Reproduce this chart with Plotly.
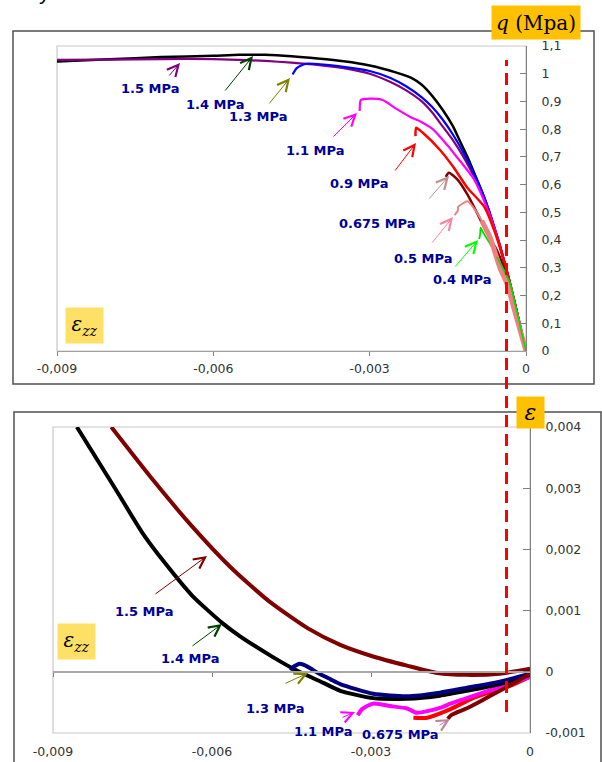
import plotly.graph_objects as go

W, H = 602, 762

# ---------------- top chart data: q (MPa) vs eps_zz ----------------
top_x_ticks = [-0.009, -0.006, -0.003, 0]
top_x_ticktext = ["-0,009", "-0,006", "-0,003", "0"]
top_y_ticks = [0, 0.1, 0.2, 0.3, 0.4, 0.5, 0.6, 0.7, 0.8, 0.9, 1.0, 1.1]
top_y_ticktext = ["0", "0,1", "0,2", "0,3", "0,4", "0,5", "0,6", "0,7", "0,8", "0,9", "1", "1,1"]

ezz_14 = [0, -0.0001, -0.0002, -0.0003, -0.0004, -0.0005, -0.0006, -0.0007, -0.0008, -0.0009, -0.001,
          -0.0011, -0.0012, -0.0013, -0.0014, -0.0016, -0.0018, -0.002, -0.0022, -0.0025, -0.003,
          -0.0035, -0.004, -0.0045, -0.005, -0.0055, -0.006, -0.007, -0.008, -0.009]
q_14 = [0, 0.08, 0.16, 0.24, 0.31, 0.38, 0.44, 0.50, 0.55, 0.60, 0.645, 0.69, 0.73, 0.77, 0.81, 0.87,
        0.92, 0.96, 0.985, 1.005, 1.03, 1.045, 1.055, 1.063, 1.068, 1.068, 1.065, 1.06, 1.052, 1.044]

ezz_15 = [0, -0.0002, -0.0004, -0.0006, -0.0008, -0.001, -0.0012, -0.0014, -0.0016, -0.0018, -0.002,
          -0.0023, -0.0026, -0.003, -0.0035, -0.004, -0.0045, -0.005, -0.0055, -0.006, -0.007, -0.008, -0.009]
q_15 = [0, 0.16, 0.31, 0.44, 0.55, 0.63, 0.70, 0.76, 0.81, 0.86, 0.90, 0.94, 0.97, 1.0, 1.02, 1.032,
        1.04, 1.046, 1.05, 1.053, 1.053, 1.051, 1.05]

ezz_13 = [0, -0.0002, -0.0004, -0.0006, -0.0008, -0.001, -0.0012, -0.0014, -0.0016, -0.0018, -0.002,
          -0.0023, -0.0026, -0.003, -0.0035, -0.004, -0.0042, -0.00427, -0.0044, -0.00448]
q_13 = [0, 0.16, 0.31, 0.44, 0.555, 0.64, 0.715, 0.78, 0.835, 0.88, 0.915, 0.955, 0.985, 1.01, 1.025,
        1.035, 1.036, 1.033, 1.02, 0.997]

ezz_11 = [0, -0.0002, -0.0004, -0.0006, -0.0008, -0.001, -0.0012, -0.00133, -0.0015, -0.00179, -0.002,
          -0.00223, -0.0025, -0.00275, -0.003, -0.00317, -0.00319]
q_11 = [0, 0.16, 0.31, 0.44, 0.54, 0.62, 0.67, 0.70, 0.74, 0.80, 0.825, 0.845, 0.875, 0.905, 0.91,
        0.905, 0.866]

ezz_09 = [0, -0.0002, -0.0004, -0.0006, -0.0008, -0.00113, -0.0014, -0.00165, -0.00198, -0.00211, -0.00212]
q_09 = [0, 0.16, 0.31, 0.43, 0.52, 0.59, 0.665, 0.725, 0.787, 0.805, 0.775]

ezz_brown = [0, -0.0001, -0.0002, -0.0003, -0.0004, -0.00055, -0.00075, -0.00094, -0.00112, -0.00131,
             -0.00148, -0.00154]
q_brown = [0, 0.075, 0.15, 0.22, 0.285, 0.36, 0.426, 0.498, 0.563, 0.617, 0.643, 0.628]

ezz_pink = [0, -0.00012, -0.00024, -0.00037, -0.0005, -0.00069, -0.00085, -0.001, -0.00112, -0.0013,
            -0.00131, -0.00137]
q_pink = [0, 0.08, 0.16, 0.245, 0.30, 0.41, 0.47, 0.515, 0.54, 0.52, 0.505, 0.49]

ezz_green = [0, -0.0001, -0.0002, -0.00031, -0.00045, -0.00056, -0.0007, -0.00083, -0.00087, -0.00088, -0.0009]
q_green = [0, 0.08, 0.16, 0.245, 0.30, 0.34, 0.39, 0.43, 0.445, 0.42, 0.404]

# ---------------- bottom chart data: eps vs eps_zz ----------------
bot_x_ticks = [-0.009, -0.006, -0.003, 0]
bot_x_ticktext = ["-0,009", "-0,006", "-0,003", "0"]
bot_y_ticks = [-0.001, 0, 0.001, 0.002, 0.003, 0.004]
bot_y_ticktext = ["-0,001", "0", "0,001", "0,002", "0,003", "0,004"]

b_ezz_15 = [0, -0.00057, -0.00119, -0.00175, -0.00232, -0.00296, -0.00358, -0.00419, -0.00492,
            -0.00564, -0.00638, -0.0071, -0.0079]
b_e_15 = [0.00005, -0.00003, -0.00005, -0.00002, 0.0001, 0.00025, 0.00044, 0.00071, 0.00115,
          0.0017, 0.00238, 0.00312, 0.004]

b_ezz_14 = [0, -0.00057, -0.00119, -0.0017, -0.00232, -0.00296, -0.00358, -0.0039, -0.0044, -0.00485,
            -0.00547, -0.00581, -0.00638, -0.00689, -0.00732, -0.00783, -0.00855]
b_e_14 = [-0.00005, -0.0002, -0.00031, -0.00039, -0.00044, -0.00043, -0.00031, -0.00018, 0.00002,
          0.00024, 0.00058, 0.0008, 0.00125, 0.00178, 0.00228, 0.003, 0.004]

b_ezz_13 = [0, -0.00057, -0.00119, -0.0017, -0.00232, -0.00296, -0.00358, -0.00377, -0.004, -0.00419,
            -0.00434, -0.00447, -0.00451]
b_e_13 = [-0.00003, -0.00016, -0.00026, -0.00034, -0.0004, -0.00036, -0.0002, -0.00012, -0.00002,
          0.00008, 0.00013, 0.00008, 0.00002]

b_ezz_11 = [0, -0.00025, -0.00057, -0.00089, -0.00119, -0.0015, -0.0017, -0.00213, -0.00232, -0.00264,
            -0.00296, -0.00317, -0.00325]
b_e_11 = [-0.00008, -0.00016, -0.00025, -0.00034, -0.00043, -0.00052, -0.00059, -0.00067, -0.0006,
          -0.00056, -0.00052, -0.00061, -0.00071]

b_ezz_09 = [0, -0.00038, -0.00075, -0.00108, -0.0015, -0.00194, -0.0022]
b_e_09 = [-0.00008, -0.00023, -0.00033, -0.00043, -0.00061, -0.00075, -0.00075]

b_ezz_0675 = [0, -0.00025, -0.00057, -0.00089, -0.0012, -0.00149, -0.00155]
b_e_0675 = [-0.00003, -0.00016, -0.00031, -0.00046, -0.0006, -0.00071, -0.00077]

# labels
top_labels = ["1.5 MPa", "1.4 MPa", "1.3 MPa", "1.1 MPa", "0.9 MPa", "0.675 MPa", "0.5 MPa", "0.4 MPa"]
bot_labels = ["1.5 MPa", "1.4 MPa", "1.3 MPa", "1.1 MPa", "0.675 MPa"]


def fx(px):
    return px / W


def fy(py):
    return 1 - py / H


fig = go.Figure()

top_series = [
    (ezz_14, q_14, "#000000", 2.5),
    (ezz_15, q_15, "#800080", 2.2),
    (ezz_13, q_13, "#0000FF", 2.2),
    (ezz_11, q_11, "#FF00FF", 2.2),
    (ezz_09, q_09, "#FF0000", 2.5),
    (ezz_brown, q_brown, "#800000", 2.5),
    (ezz_pink, q_pink, "#F08080", 2.0),
    (ezz_green, q_green, "#00E000", 1.8),
]
for xs, ys, c, w in top_series:
    fig.add_trace(go.Scatter(x=xs, y=ys, mode="lines", line=dict(color=c, width=w, shape="spline",
                             smoothing=0.6), xaxis="x", yaxis="y", showlegend=False, hoverinfo="skip"))
fig.add_trace(go.Scatter(x=ezz_pink[:7], y=q_pink[:7], mode="lines",
                         line=dict(color="#F08080", width=5, shape="spline", smoothing=0.6),
                         xaxis="x", yaxis="y", showlegend=False, hoverinfo="skip"))
fig.add_trace(go.Scatter(x=ezz_green[:6], y=q_green[:6], mode="lines",
                         line=dict(color="#00E000", width=1.5, shape="spline", smoothing=0.6),
                         xaxis="x", yaxis="y", showlegend=False, hoverinfo="skip"))

bot_series = [
    (b_ezz_09, b_e_09, "#FF0000"),
    (b_ezz_11, b_e_11, "#FF00FF"),
    (b_ezz_14, b_e_14, "#000000"),
    (b_ezz_13, b_e_13, "#000080"),
    (b_ezz_15, b_e_15, "#800000"),
    (b_ezz_0675, b_e_0675, "#800000"),
]
for xs, ys, c in bot_series:
    fig.add_trace(go.Scatter(x=xs, y=ys, mode="lines", line=dict(color=c, width=4, shape="spline",
                             smoothing=0.6), xaxis="x2", yaxis="y2", showlegend=False, hoverinfo="skip"))
fig.add_trace(go.Scatter(x=[None], y=[None], xaxis="x3", yaxis="y2", showlegend=False, hoverinfo="skip"))

tickfont = dict(family="DejaVu Sans", size=12.5, color="#333333")

top_dom_y = [fy(351), fy(46)]
bot_dom_y = [fy(733), fy(427)]
bot_ymin, bot_ymax = -0.001, 0.004
zero_pos = bot_dom_y[0] + (0 - bot_ymin) / (bot_ymax - bot_ymin) * (bot_dom_y[1] - bot_dom_y[0])

fig.update_layout(
    width=W, height=H,
    margin=dict(l=0, r=0, t=0, b=0, autoexpand=False),
    paper_bgcolor="white", plot_bgcolor="white",
    xaxis=dict(domain=[fx(57), fx(526)], range=[-0.009, 0], anchor="y", automargin=False,
               tickvals=top_x_ticks, ticktext=top_x_ticktext, ticks="outside", ticklen=4,
               tickcolor="#808080", showline=True, linecolor="#A0A0A0", linewidth=1,
               showgrid=False, zeroline=False, tickfont=tickfont, ticklabelstandoff=2),
    yaxis=dict(domain=top_dom_y, range=[0, 1.1], anchor="x", side="right", automargin=False,
               tickvals=top_y_ticks, ticktext=top_y_ticktext, ticks="inside", ticklen=6,
               tickcolor="#808080", showline=True, linecolor="#808080", linewidth=1,
               showgrid=False, zeroline=False, tickfont=tickfont, ticklabelstandoff=12),
    xaxis2=dict(domain=[fx(53), fx(530)], range=[-0.009, 0], anchor="y2", automargin=False,
                tickvals=bot_x_ticks, ticktext=bot_x_ticktext, ticks="", showline=False,
                showgrid=False, zeroline=False, tickfont=tickfont, ticklabelstandoff=9),
    xaxis3=dict(domain=[fx(53), fx(530)], range=[-0.009, 0], overlaying="x2", anchor="free",
                position=zero_pos, automargin=False, tickvals=bot_x_ticks, ticks="outside", ticklen=4,
                tickcolor="#808080", showticklabels=False, showline=True, linecolor="#A8A8A8",
                linewidth=1.5, showgrid=False, zeroline=False),
    yaxis2=dict(domain=bot_dom_y, range=[bot_ymin, bot_ymax], anchor="x2", side="right", automargin=False,
                tickvals=bot_y_ticks, ticktext=bot_y_ticktext, ticks="inside", ticklen=7,
                tickcolor="#808080", showline=True, linecolor="#808080", linewidth=1,
                showgrid=False, zeroline=False, tickfont=tickfont, ticklabelstandoff=12),
)

shapes = [
    dict(type="rect", xref="paper", yref="paper", x0=fx(13), x1=fx(594), y0=fy(384), y1=fy(31),
         line=dict(color="#505050", width=1.5), layer="below"),
    dict(type="rect", xref="paper", yref="paper", x0=fx(14), x1=fx(601), y0=fy(775), y1=fy(412),
         line=dict(color="#505050", width=1.5), layer="below"),
    dict(type="rect", xref="x domain", yref="y domain", x0=0, x1=1, y0=0, y1=1,
         line=dict(color="#C8C8C8", width=1.2), layer="below"),
    dict(type="rect", xref="x2 domain", yref="y2 domain", x0=0, x1=1, y0=0, y1=1,
         line=dict(color="#C8C8C8", width=1.2), layer="below"),
    dict(type="line", xref="paper", yref="paper", x0=fx(506.5), x1=fx(506.5), y0=fy(712), y1=fy(60),
         line=dict(color="#FF0000", width=3, dash="12px,7px")),
]
fig.update_layout(shapes=shapes)

label_font = dict(family="DejaVu Sans", size=13, color="#000099")
annotations = []

top_label_pos = [(150, 89), (215, 105), (258, 117), (315, 150), (359, 184), (377, 223), (423, 258), (462, 280)]
for t, (px, py) in zip(top_labels, top_label_pos):
    annotations.append(dict(text="<b>" + t + "</b>", x=fx(px), y=fy(py), xref="paper", yref="paper",
                            showarrow=False, xanchor="center", yanchor="middle", font=label_font))
bot_label_pos = [(144, 611), (190, 658), (275, 708), (323, 731), (400, 734)]
for t, (px, py) in zip(bot_labels, bot_label_pos):
    annotations.append(dict(text="<b>" + t + "</b>", x=fx(px), y=fy(py), xref="paper", yref="paper",
                            showarrow=False, xanchor="center", yanchor="middle", font=label_font))

arrows = [
    (168, 77, 180, 63, "#800080"),
    (224, 92, 253, 56, "#004000"),
    (268, 105, 290, 78, "#808000"),
    (332, 138, 357, 113, "#FF00FF"),
    (394, 172, 416, 143, "#FF0000"),
    (428, 200, 449, 176, "#C09090"),
    (431, 244, 453, 217, "#FF80A0"),
    (454, 268, 478, 240, "#00FF00"),
    (154, 595, 207, 556, "#800000"),
    (191, 647, 222, 624, "#004000"),
    (284, 684, 308, 673, "#808000"),
    (341, 718, 355, 712, "#FF00FF"),
    (438, 726, 450, 719, "#C080A0"),
]
for tx, ty, hx, hy, c in arrows:
    annotations.append(dict(x=fx(hx), y=fy(hy), xref="paper", yref="paper", ax=tx - hx, ay=ty - hy,
                            axref="pixel", ayref="pixel", showarrow=True, arrowhead=5, arrowsize=2.2,
                            arrowwidth=1, arrowcolor=c, text=""))

annotations.append(dict(text="<i>q</i> (Mpa)", x=fx(491), y=fy(5), xref="paper", yref="paper",
                        xanchor="left", yanchor="top", showarrow=False, bgcolor="#FFC000",
                        width=88, height=33, borderpad=0,
                        font=dict(family="DejaVu Serif", size=20, color="#000000")))
annotations.append(dict(text="<i>ε</i>", x=fx(516), y=fy(396), xref="paper", yref="paper",
                        xanchor="left", yanchor="top", showarrow=False, bgcolor="#FFC000",
                        width=27, height=31, borderpad=0,
                        font=dict(family="DejaVu Serif", size=22, color="#000000")))
for (bx, by) in [(65, 307), (57, 623)]:
    annotations.append(dict(text="<i>ε<sub>zz</sub></i>", x=fx(bx), y=fy(by), xref="paper", yref="paper",
                            xanchor="left", yanchor="top", showarrow=False, bgcolor="#FFE066",
                            width=37, height=35, borderpad=0,
                            font=dict(family="DejaVu Serif", size=20, color="#000000")))
annotations.append(dict(text="y", x=fx(44), y=fy(6), xref="paper", yref="paper", xanchor="center",
                        yanchor="bottom", showarrow=False,
                        font=dict(family="Liberation Sans", size=22, color="#000000")))

fig.update_layout(annotations=annotations)

fig.write_html("out.html", config={"displayModeBar": False},
               post_script="document.body.style.margin='0px';")
